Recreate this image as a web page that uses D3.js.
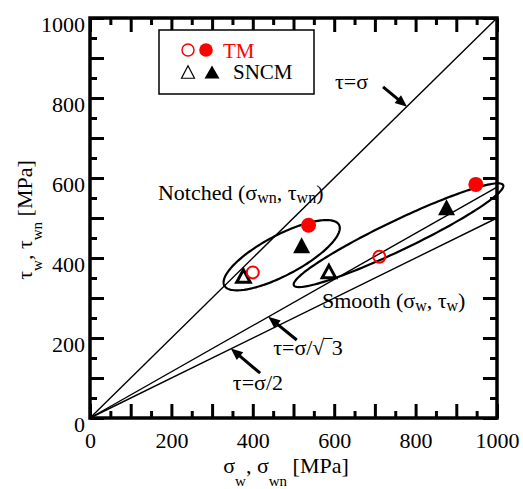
<!DOCTYPE html>
<html><head><meta charset="utf-8">
<script src="https://cdn.jsdelivr.net/npm/d3@7"></script>
<style>body{margin:0;background:#fff} svg{display:block} text{font-family:"Liberation Serif","Times New Roman",serif}</style>
</head><body><svg id="c" width="523" height="489"></svg>
<script>
// ---- data (MPa) ----
const tmOpenX = [400, 711],  tmOpenY = [364, 403];
const tmFillX = [537, 948],  tmFillY = [482, 584];
const sncmOpenX = [377, 587], sncmOpenY = [355, 366];
const sncmFillX = [520, 876], sncmFillY = [432, 527];
const refSlopes = [1, 1 / Math.sqrt(3), 0.5];
const majorTicks = [0,100,200,300,400,500,600,700,800,900,1000];
const minorTicks = [50,150,250,350,450,550,650,750,850,950];
const tickLabels = ["0","","200","","400","","600","","800","","1000"];
// ellipses (data units): centre, semi-axes, angle
const ellipseCX = [471, 758], ellipseCY = [407, 457], ellipseA = [160, 286], ellipseB = [50, 37], ellipseAng = [28.4, 26];
// annotation arrows (data units)
const arrowFromX = [720, 508, 418], arrowFromY = [828, 195, 112];
const arrowToX = [779, 438, 346],  arrowToY = [778, 253, 174];

const svg = d3.select("#c");
const x = d3.scaleLinear().domain([0, 1000]).range([90, 497]);
const y = d3.scaleLinear().domain([0, 1000]).range([418, 18]);

// reference lines
refSlopes.forEach(s => svg.append("line")
  .attr("x1", x(0)).attr("y1", y(0)).attr("x2", x(1000)).attr("y2", y(1000 * s))
  .attr("stroke", "#000").attr("stroke-width", 1.4));

// ellipses
ellipseCX.forEach((cx, i) => {
  const r = ellipseAng[i] * Math.PI / 180;
  const pts = d3.range(0, 360, 2).map(t => {
    t = t * Math.PI / 180;
    const u = ellipseA[i] * Math.cos(t), v = ellipseB[i] * Math.sin(t);
    return [x(cx + u * Math.cos(r) - v * Math.sin(r)), y(ellipseCY[i] + u * Math.sin(r) + v * Math.cos(r))];
  });
  svg.append("path").attr("d", d3.line()(pts) + "Z").attr("fill", "none").attr("stroke", "#000").attr("stroke-width", 2.2);
});

// arrows
arrowFromX.forEach((fx, i) => {
  const x0 = x(fx), y0 = y(arrowFromY[i]), x1 = x(arrowToX[i]), y1 = y(arrowToY[i]);
  const dx = x1 - x0, dy = y1 - y0, L = Math.hypot(dx, dy), ux = dx / L, uy = dy / L;
  const hl = 12, hw = 5;
  svg.append("line").attr("x1", x0).attr("y1", y0).attr("x2", x1 - ux * hl * 0.8).attr("y2", y1 - uy * hl * 0.8)
    .attr("stroke", "#000").attr("stroke-width", 3);
  const bx = x1 - ux * hl, by = y1 - uy * hl;
  svg.append("path").attr("d", `M${x1},${y1}L${bx - uy * hw},${by + ux * hw}L${bx + uy * hw},${by - ux * hw}Z`).attr("fill", "#000");
});

// markers
function tri(cx, cy, w, h) { return `M${cx},${cy - h / 2}L${cx + w / 2},${cy + h / 2}L${cx - w / 2},${cy + h / 2}Z`; }
sncmOpenX.forEach((v, i) => svg.append("path").attr("d", tri(x(v), y(sncmOpenY[i]), 13.5, 12.5))
  .attr("fill", "none").attr("stroke", "#000").attr("stroke-width", 3).attr("stroke-linejoin", "miter"));
sncmFillX.forEach((v, i) => svg.append("path").attr("d", tri(x(v), y(sncmFillY[i]), 17, 16)).attr("fill", "#000"));
tmOpenX.forEach((v, i) => svg.append("circle").attr("cx", x(v)).attr("cy", y(tmOpenY[i])).attr("r", 6)
  .attr("fill", "none").attr("stroke", "#ff0000").attr("stroke-width", 2));
tmFillX.forEach((v, i) => svg.append("circle").attr("cx", x(v)).attr("cy", y(tmFillY[i])).attr("r", 7.5).attr("fill", "#ff0000"));

// axes
function ax(gen, tr) {
  const g = svg.append("g").attr("transform", tr).call(gen);
  g.select(".domain").remove();
  g.selectAll(".tick line").attr("stroke", "#000").attr("stroke-width", 3);
  return g;
}
const fmt = (d, i) => tickLabels[majorTicks.indexOf(d)];
const gb = ax(d3.axisBottom(x).tickValues(majorTicks).tickSize(-14).tickFormat(fmt), "translate(0,418)");
gb.selectAll("text").attr("y", 30).attr("dy", null).attr("font-size", 22).attr("font-family", "Liberation Serif").attr("fill", "#000");
ax(d3.axisBottom(x).tickValues(minorTicks).tickSize(-7).tickFormat(""), "translate(0,418)");
const gl = ax(d3.axisLeft(y).tickValues(majorTicks).tickSize(-14).tickFormat(fmt), "translate(90,0)");
gl.selectAll("text").attr("x", -5).attr("y", 13).attr("dy", null).attr("font-size", 22).attr("font-family", "Liberation Serif").attr("fill", "#000");
ax(d3.axisLeft(y).tickValues(minorTicks).tickSize(-7).tickFormat(""), "translate(90,0)");
ax(d3.axisTop(x).tickValues(majorTicks).tickSize(-14).tickFormat(""), "translate(0,18)");
ax(d3.axisTop(x).tickValues(minorTicks).tickSize(-7).tickFormat(""), "translate(0,18)");
ax(d3.axisRight(y).tickValues(majorTicks).tickSize(-14).tickFormat(""), "translate(497,0)");
ax(d3.axisRight(y).tickValues(minorTicks).tickSize(-7).tickFormat(""), "translate(497,0)");
svg.append("rect").attr("x", 90).attr("y", 18).attr("width", 407).attr("height", 400)
  .attr("fill", "none").attr("stroke", "#000").attr("stroke-width", 3.5);

// axis titles
const xt = svg.append("text").attr("x", 286).attr("y", 473).attr("text-anchor", "middle").attr("font-size", 22);
xt.append("tspan").text("σ");
xt.append("tspan").text("w").attr("font-size", 15).attr("dy", 13);
xt.append("tspan").text(", σ").attr("dy", -13);
xt.append("tspan").text("wn").attr("font-size", 15).attr("dy", 13);
xt.append("tspan").text(" [MPa]").attr("dy", -13);
const yt = svg.append("text").attr("transform", "translate(32,220) rotate(-90)").attr("text-anchor", "middle").attr("font-size", 22);
yt.append("tspan").text("τ");
yt.append("tspan").text("w").attr("font-size", 15).attr("dy", 10);
yt.append("tspan").text(", τ").attr("dy", -10);
yt.append("tspan").text("wn").attr("font-size", 15).attr("dy", 10);
yt.append("tspan").text(" [MPa]").attr("dy", -10);

// annotations
svg.append("text").attr("x", x(602)).attr("y", y(822)).attr("font-size", 22).text("τ=σ");
svg.append("text").attr("x", x(450)).attr("y", y(157)).attr("font-size", 22).text("τ=σ/√‾3");
svg.append("text").attr("x", x(351)).attr("y", y(70)).attr("font-size", 22).text("τ=σ/2");
const nt = svg.append("text").attr("x", x(167)).attr("y", y(545)).attr("font-size", 22);
nt.append("tspan").text("Notched (σ");
nt.append("tspan").text("wn").attr("font-size", 16).attr("dy", 3);
nt.append("tspan").text(", τ").attr("dy", -3);
nt.append("tspan").text("wn").attr("font-size", 16).attr("dy", 3);
nt.append("tspan").text(")").attr("dy", -3);
const st = svg.append("text").attr("x", x(570)).attr("y", y(274)).attr("font-size", 22);
st.append("tspan").text("Smooth (σ");
st.append("tspan").text("w").attr("font-size", 16).attr("dy", 3);
st.append("tspan").text(", τ").attr("dy", -3);
st.append("tspan").text("w").attr("font-size", 16).attr("dy", 3);
st.append("tspan").text(")").attr("dy", -3);

// legend
const lg = svg.append("g");
lg.append("rect").attr("x", 159).attr("y", 30).attr("width", 155).attr("height", 64).attr("fill", "#fff").attr("stroke", "#000").attr("stroke-width", 1.5);
lg.append("circle").attr("cx", 188).attr("cy", 50).attr("r", 6).attr("fill", "none").attr("stroke", "#ff0000").attr("stroke-width", 1.5);
lg.append("circle").attr("cx", 206).attr("cy", 50).attr("r", 6.8).attr("fill", "#ff0000");
lg.append("text").attr("x", 223).attr("y", 58).attr("font-size", 21).attr("fill", "#ff0000").text("TM");
lg.append("path").attr("d", tri(188, 72, 13, 12.5)).attr("fill", "none").attr("stroke", "#000").attr("stroke-width", 1.2);
lg.append("path").attr("d", tri(212, 72, 15, 13)).attr("fill", "#000");
lg.append("text").attr("x", 233).attr("y", 79).attr("font-size", 21).attr("fill", "#000").text("SNCM");
</script></body></html>
